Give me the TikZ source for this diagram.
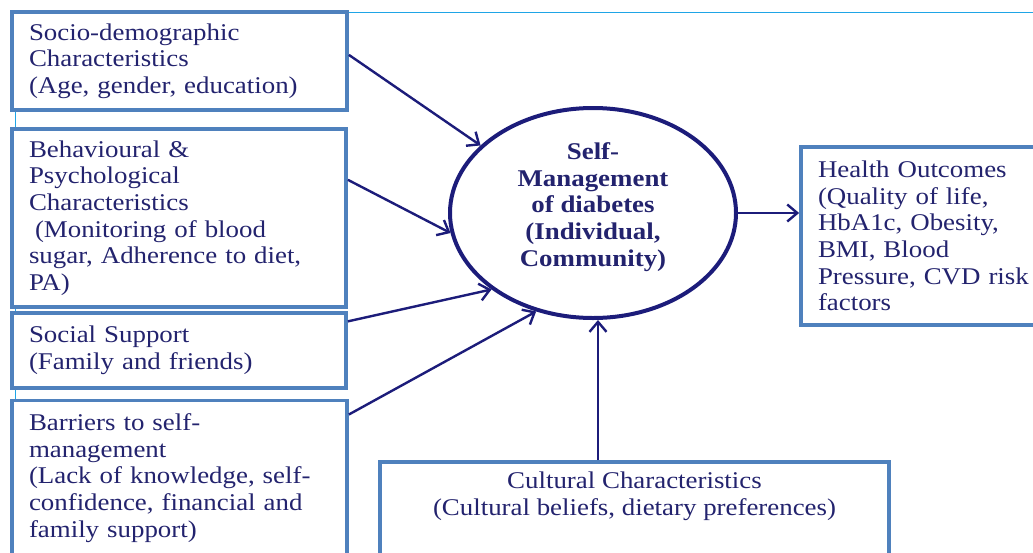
\documentclass[tikz,border=0pt]{standalone}
\usepackage{fontspec}
\setmainfont{Liberation Serif}[FakeStretch=1.12]
\usetikzlibrary{arrows.meta,shapes.geometric,calc}
\definecolor{boxblue}{HTML}{4F81BD}
\definecolor{navy}{HTML}{1C1C7A}
\definecolor{inktext}{HTML}{23236E}
\definecolor{framecyan}{HTML}{1FA5E6}
\begin{document}
\begin{tikzpicture}[x=1pt,y=-1pt,
  every node/.style={font=\fontsize{24}{26.6}\selectfont, text=inktext},
  factor/.style={rectangle, draw=boxblue, line width=3.8pt, fill=white,
    inner xsep=17pt, inner ysep=0pt, align=left},
  hub/.style={ellipse, draw=navy, line width=4pt, minimum width=286pt,
    minimum height=210pt, inner sep=0pt},
  arr/.style={draw=navy, line width=2.4pt,
    -{Straight Barb[length=10pt,width=17pt]}}]
\useasboundingbox (0,0) rectangle (1033,552);
\clip (0,0) rectangle (1033,552);

% thin outer frame behind everything
\draw[framecyan, line width=1pt] (15,600) |- (1100,12);

% influencing factors on the left
\node[factor, minimum width=335pt, minimum height=98pt, text width=301pt]
  (b1) at (179.5,61)
  {Socio-demographic\\Characteristics\\(Age, gender, education)};
\node[factor, minimum width=334pt, minimum height=178pt, text width=300pt]
  (b2) at (179,218)
  {Behavioural \&\\Psychological\\Characteristics\\\hspace*{6pt}(Monitoring of blood\\sugar, Adherence to diet,\\PA)};
\node[factor, minimum width=334pt, minimum height=75pt, text width=300pt]
  (b3) at (179,350.5)
  {Social Support\\(Family and friends)};
\node[factor, minimum width=335pt, minimum height=155pt, text width=301pt]
  (b4) at (179.5,478)
  {Barriers to self-\\management\\(Lack of knowledge, self-\\confidence, financial and\\family support)};

% outcomes and cultural context
\node[factor, minimum width=262pt, minimum height=178pt, text width=228pt]
  (hea) at (932,236)
  {Health Outcomes\\(Quality of life,\\HbA1c, Obesity,\\BMI, Blood\\Pressure, CVD risk\\factors};
\node[factor, minimum width=509pt, minimum height=108pt] (cul) at (634.5,516) {};
\node[anchor=north, align=center, inner sep=0pt] (cultxt)
  at ($(cul.north)+(0,12)$)
  {Cultural Characteristics\\(Cultural beliefs, dietary preferences)};

% central construct
\node[hub] (sm) at (593,213) {};
\node[align=center, inner sep=0pt, font=\fontsize{24}{26.6}\selectfont\bfseries]
  (smtxt) at (593,207)
  {Self-\\Management\\of diabetes\\(Individual,\\Community)};

% connectors
\draw[arr] ($(b1.north east)!0.44!(b1.south east)$) -- (sm.149.6);
\draw[arr] ($(b2.north east)!0.29!(b2.south east)$) -- (sm.188);
\draw[arr] ($(b3.north east)!0.13!(b3.south east)$) -- (sm.217.6);
\draw[arr] ($(b4.north east)!0.10!(b4.south east)$) -- (sm.240);
\draw[arr] ([xshift=5pt]sm.south |- cul.north) -- ([xshift=5pt]sm.south);
\draw[arr] (sm.east) -- (sm.east -| hea.west);
\end{tikzpicture}
\end{document}
